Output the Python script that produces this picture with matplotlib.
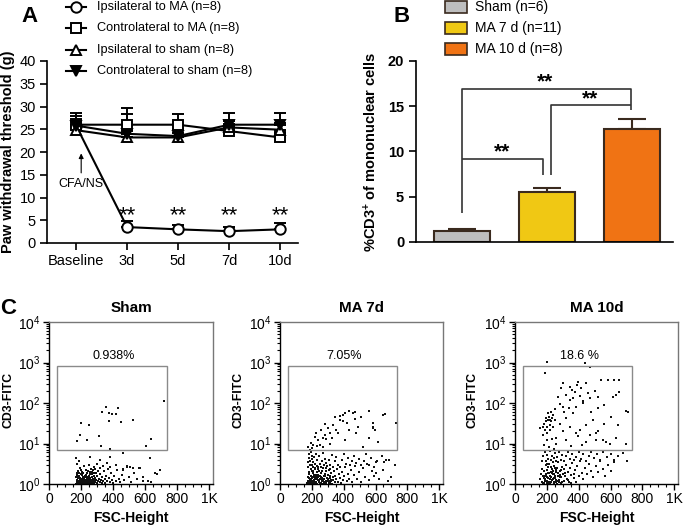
import matplotlib
matplotlib.use('Agg')
import matplotlib.pyplot as plt
from matplotlib.lines import Line2D
from matplotlib.patches import Rectangle
from matplotlib.ticker import MultipleLocator, LogLocator, LogFormatterMathtext, NullFormatter
import numpy as np

plt.rcParams['font.family'] = ['Liberation Sans', 'DejaVu Sans']
plt.rcParams['mathtext.fontset'] = 'custom'
plt.rcParams['mathtext.rm'] = 'Liberation Sans'
plt.rcParams['mathtext.bf'] = 'Liberation Sans:bold'
plt.rcParams['mathtext.it'] = 'Liberation Sans:italic'
plt.rcParams['mathtext.default'] = 'regular'

# ---------------- Panel A data ----------------
timepoints = ['Baseline', '3d', '5d', '7d', '10d']
series_labels = ['Ipsilateral to MA (n=8)', 'Controlateral to MA (n=8)',
                 'Ipsilateral to sham (n=8)', 'Controlateral to sham (n=8)']
ipsi_ma = [25.8, 3.5, 3.0, 2.6, 3.0]
ipsi_ma_err = [1.5, 1.3, 0.9, 0.9, 1.5]
contra_ma = [26.0, 26.0, 26.0, 24.6, 23.2]
contra_ma_err = [2.5, 3.7, 2.3, 1.5, 1.0]
ipsi_sham = [24.8, 23.2, 23.2, 25.4, 24.9]
ipsi_sham_err = [1.0, 1.5, 1.0, 1.5, 1.5]
contra_sham = [25.8, 24.0, 23.5, 26.0, 26.0]
contra_sham_err = [2.2, 4.4, 1.5, 2.5, 2.5]

# ---------------- Panel B data ----------------
groups = ['Sham (n=6)', 'MA 7 d (n=11)', 'MA 10 d (n=8)']
cd3_pct = [1.25, 5.5, 12.5]
cd3_err = [0.15, 0.52, 1.07]
bar_colors = ['#BEBEBE', '#F0C814', '#F07314']

# ---------------- Panel C data ----------------
facs_titles = ['Sham', 'MA 7d', 'MA 10d']
gate_pct = ['0.938%', '7.05%', '18.6 %']
x_tick_vals = [0, 200, 400, 600, 800, 1000]
x_tick_labels = ['0', '200', '400', '600', '800', '1K']

sham_events = [
    (716, 114), (358, 78), (433, 76), (333, 59), (373, 56), (393, 53), (420, 53), (375, 36),
    (449, 34), (524, 38), (197, 33), (248, 28), (313, 15.6), (193, 16), (240, 12), (172, 11.7),
    (325, 8.9), (607, 8.7), (634, 12.7), (380, 7.3),
    (167, 4.3), (255, 4.6), (380, 4.6), (463, 5.9), (630, 4.3), (318, 3.9), (485, 2.8), (505, 2.7),
    (463, 2.2), (525, 2.5), (567, 2.5), (590, 1.5), (550, 1.35), (673, 1.8), (693, 2.2), (662, 1.9),
    (175, 3.2), (185, 3.6), (620, 1.2), (640, 1.1),
    (168, 1.02), (172, 1.12), (175, 1.25), (178, 1.05), (181, 1.38), (184, 1.18), (186, 1.02), (189, 1.55),
    (191, 1.28), (194, 1.09), (196, 1.42), (199, 1.15), (201, 1.03), (204, 1.33), (206, 1.22), (209, 1.68),
    (211, 1.07), (214, 1.48), (216, 1.19), (219, 1.01), (221, 1.36), (224, 1.11), (226, 1.58), (229, 1.24),
    (231, 1.04), (234, 1.45), (236, 1.16), (239, 1.82), (241, 1.30), (244, 1.06), (246, 1.52), (249, 1.21),
    (251, 1.02), (254, 1.39), (256, 1.13), (259, 1.72), (261, 1.27), (264, 1.05), (266, 1.47), (269, 1.17),
    (271, 1.95), (274, 1.33), (276, 1.08), (279, 1.61), (281, 1.22), (284, 1.03), (286, 1.41), (289, 1.14),
    (292, 1.88), (295, 1.29), (298, 1.06), (302, 1.55), (305, 1.19), (309, 2.15), (312, 1.36), (316, 1.09),
    (320, 1.72), (324, 1.25), (328, 1.04), (333, 1.48), (338, 1.16), (342, 2.05), (347, 1.32), (352, 1.08),
    (357, 1.62), (362, 1.21), (368, 2.35), (374, 1.40), (380, 1.12), (386, 1.85), (393, 1.27), (400, 1.05),
    (408, 1.55), (416, 1.18), (425, 2.20), (435, 1.35), (445, 1.10), (455, 1.70), (470, 1.25), (485, 2.60),
    (500, 1.45), (515, 1.15), (530, 1.90), (548, 1.30), (565, 2.45), (585, 1.20), (180, 2.05), (192, 2.45),
    (205, 1.95), (218, 2.75), (232, 2.20), (247, 2.90), (262, 2.35), (278, 2.60), (300, 3.10), (320, 2.50),
    (340, 2.85), (360, 3.30), (380, 2.70), (420, 3.00), (460, 2.40), (176, 1.85), (183, 1.62), (198, 1.75),
    (213, 1.90), (228, 1.70), (243, 2.10), (258, 1.98), (273, 2.25), (288, 2.40), (170, 1.45), (173, 1.65),
    (187, 1.90), (200, 2.25), (222, 1.52), (238, 1.38), (252, 1.60), (268, 1.75), (283, 1.90),
    (179, 1.10), (193, 1.22), (207, 1.05), (225, 1.28), (242, 1.12), (257, 1.35), (272, 1.02), (290, 1.25),
]

ma7_events = [
    (396, 52), (406, 58), (433, 63), (458, 56), (562, 65), (662, 54), (375, 38), (420, 33), (469, 40),
    (510, 45), (490, 26), (583, 24), (587, 32), (333, 29), (350, 21.5), (312, 18.5), (281, 31), (267, 14),
    (292, 12.6), (240, 12.2), (219, 14.7), (192, 10.5), (208, 9.2), (250, 9.2), (177, 8.3), (271, 8.3),
    (312, 10), (406, 12), (521, 8.3), (562, 13.5), (614, 11), (365, 17.8), (396, 35), (435, 21.5),
    (479, 17.8), (344, 46), (281, 16), (229, 17.8), (260, 21.5), (188, 6.9), (646, 50), (583, 26),
    (594, 22), (729, 32), (470, 60), (380, 48), (300, 24), (325, 14), (200, 7.8), (230, 8.8),
    (172, 1.03), (175, 1.22), (178, 1.48), (181, 1.10), (184, 1.75), (187, 1.30), (190, 1.02), (193, 1.58),
    (196, 1.18), (199, 2.05), (202, 1.38), (205, 1.07), (208, 1.85), (211, 1.25), (214, 1.52), (217, 1.04),
    (220, 2.30), (223, 1.35), (226, 1.15), (229, 1.68), (232, 1.02), (235, 1.95), (238, 1.28), (241, 1.45),
    (244, 1.09), (247, 2.15), (250, 1.33), (253, 1.62), (256, 1.05), (259, 1.88), (262, 1.22), (265, 1.40),
    (268, 1.01), (271, 2.45), (274, 1.30), (277, 1.55), (280, 1.12), (283, 1.78), (286, 1.20), (289, 1.03),
    (292, 2.05), (295, 1.37), (298, 1.16), (302, 1.65), (306, 1.06), (310, 2.25), (314, 1.42), (318, 1.19),
    (322, 1.85), (326, 1.02), (330, 1.50), (334, 1.27), (338, 2.10), (343, 1.10), (348, 1.60), (353, 1.33),
    (358, 2.40), (364, 1.15), (370, 1.75), (376, 1.40), (382, 1.05), (388, 2.00), (395, 1.25), (402, 1.55),
    (410, 2.60), (418, 1.20), (426, 1.80), (435, 1.35), (444, 2.20), (453, 1.10), (462, 1.65), (472, 2.80),
    (483, 1.30), (495, 1.95), (507, 1.15), (520, 2.45), (533, 1.50), (547, 3.10), (560, 1.25), (575, 2.10),
    (590, 1.60), (605, 3.40), (622, 1.35),
    (174, 2.6), (177, 3.4), (180, 4.5), (183, 5.6), (186, 2.9), (189, 3.8), (192, 6.2), (195, 2.4),
    (198, 4.1), (201, 3.0), (204, 5.0), (207, 2.7), (210, 3.5), (214, 4.6), (218, 2.5), (222, 3.2),
    (226, 5.4), (230, 2.8), (235, 3.9), (240, 2.6), (245, 4.8), (250, 3.1), (256, 2.7), (262, 3.6),
    (268, 5.8), (275, 2.9), (282, 4.2), (290, 3.3), (298, 2.8), (306, 4.0), (315, 3.0), (324, 5.2),
    (333, 2.6), (343, 3.7), (353, 4.6), (364, 3.0), (375, 2.7), (387, 3.9), (400, 5.6), (412, 3.2),
    (425, 4.4), (438, 2.9), (452, 3.6), (466, 5.0), (480, 3.3), (495, 4.1), (510, 2.9), (525, 3.7),
    (540, 5.5), (556, 3.0), (572, 4.3), (590, 2.7), (610, 3.6), (640, 4.9), (656, 3.55), (687, 4.0),
    (646, 2.2), (698, 1.5), (667, 3.9), (725, 2.9), (600, 1.9), (680, 1.2),
    (176, 1.12), (185, 1.40), (194, 1.05), (203, 1.20), (212, 1.65), (221, 1.08), (230, 1.30), (239, 1.70),
    (248, 1.14), (257, 1.48), (266, 1.26), (275, 1.07), (284, 1.55), (293, 1.18), (302, 1.35), (311, 1.04),
    (320, 1.28), (182, 1.95), (209, 2.15), (236, 2.35), (263, 2.10), (290, 2.55), (317, 2.30),
    (179, 1.02), (188, 1.20), (197, 1.33), (206, 1.52), (215, 1.12), (224, 1.45), (233, 1.60), (242, 1.22),
    (251, 1.05), (260, 1.38), (269, 1.18), (278, 1.62), (287, 1.09), (296, 1.44), (305, 1.22), (314, 1.58),
]

ma10_events = [
    (302, 306), (344, 253), (375, 190), (396, 336), (417, 231), (448, 306), (458, 173), (469, 131),
    (427, 98), (385, 81), (365, 56), (323, 42), (281, 31), (344, 26), (406, 22), (448, 29), (490, 38),
    (510, 18), (396, 15), (323, 12), (260, 10), (448, 11), (552, 12), (594, 10), (635, 13.4), (344, 119),
    (302, 81), (271, 144), (292, 231), (323, 158), (365, 131), (521, 74), (479, 61),
    (173, 26), (181, 31), (194, 35), (202, 25), (208, 38), (215, 46), (223, 29), (229, 35), (235, 42),
    (240, 51), (187, 22), (198, 18), (219, 22), (240, 26), (177, 16), (210, 58), (229, 61), (250, 38),
    (160, 24), (192, 42),
    (187, 541), (198, 1050), (437, 960), (469, 790), (542, 370), (583, 380), (625, 380), (656, 370),
    (635, 158), (656, 190), (698, 65), (708, 60), (614, 144), (469, 16), (510, 12), (573, 11), (385, 18),
    (219, 38), (250, 70), (280, 95), (310, 60), (340, 75), (360, 210), (390, 280), (410, 150), (430, 110),
    (500, 200), (520, 140), (560, 90), (600, 45), (230, 13), (260, 14), (300, 20), (200, 12), (185, 9),
    (215, 8), (245, 7.5), (350, 8.5), (420, 9), (520, 20), (560, 30), (650, 28), (700, 10),
    (160, 1.35), (164, 1.80), (168, 1.12), (172, 2.40), (176, 1.55), (180, 1.05), (184, 2.10), (188, 1.30),
    (192, 2.90), (196, 1.65), (200, 1.18), (204, 2.25), (208, 1.42), (212, 3.20), (216, 1.85), (220, 1.08),
    (224, 2.60), (228, 1.50), (232, 1.25), (236, 2.05), (240, 1.72), (244, 1.03), (248, 2.80), (252, 1.38),
    (256, 1.95), (260, 1.15), (264, 2.45), (268, 1.60), (272, 3.50), (276, 1.28), (280, 2.15), (285, 1.45),
    (290, 1.06), (295, 2.70), (300, 1.80), (305, 1.22), (310, 2.35), (316, 1.55), (322, 3.00), (328, 1.35),
    (334, 2.00), (340, 1.12), (347, 2.55), (354, 1.70), (361, 3.30), (368, 1.40), (376, 2.20), (384, 1.15),
    (392, 2.75), (400, 1.60), (410, 3.60), (420, 1.90), (430, 1.30), (440, 2.50), (452, 1.75), (465, 3.10),
    (478, 2.10), (492, 1.45), (506, 2.80), (520, 1.95), (535, 3.80), (550, 2.30), (566, 1.60), (582, 2.90),
    (600, 2.10), (620, 3.40),
    (170, 3.8), (178, 4.9), (186, 6.0), (194, 3.6), (202, 5.2), (210, 4.2), (218, 6.4), (226, 3.9),
    (234, 5.0), (242, 4.4), (250, 5.8), (258, 3.7), (266, 4.6), (276, 6.2), (286, 4.0), (296, 5.3),
    (308, 3.6), (320, 4.8), (332, 6.1), (345, 4.1), (358, 5.5), (372, 3.9), (386, 4.7), (400, 6.3),
    (415, 4.2), (430, 5.4), (446, 3.8), (462, 4.9), (480, 6.0), (498, 4.3), (516, 5.6), (535, 4.0),
    (555, 6.2), (575, 4.6), (600, 5.4), (625, 3.9), (650, 4.8), (705, 3.7), (680, 5.8),
    (190, 1.22), (198, 1.48), (206, 1.90), (214, 1.10), (222, 1.62), (230, 2.30), (238, 1.35), (246, 1.75),
    (254, 2.50), (262, 1.20), (270, 1.85), (278, 1.55), (286, 2.20), (206, 1.02), (226, 1.15), (246, 1.42),
    (266, 1.02), (186, 1.60), (210, 2.65), (234, 1.88), (258, 2.20), (282, 1.70), (200, 3.10), (240, 3.40),
    (174, 1.02), (182, 1.40), (194, 1.75), (202, 1.08), (218, 1.30), (226, 1.95), (242, 1.10), (250, 1.60),
    (258, 1.28), (274, 1.12), (290, 1.50), (298, 1.15), (314, 1.90), (330, 1.25), (350, 1.05), (370, 1.75),
]

# ---------------- Figure ----------------
W, H = 685, 528
fig = plt.figure(figsize=(W / 100, H / 100), dpi=100)


def fx(px):
    return px / W


def fy(py):
    return 1 - py / H


def box(l, t, r, b):
    return [fx(l), fy(b), (r - l) / W, (b - t) / H]


# ---------------- Panel A ----------------
axA = fig.add_axes(box(47, 61, 298, 243))
xs = np.arange(len(timepoints))
zeros = np.zeros(len(timepoints))
series = [
    (ipsi_ma, ipsi_ma_err, 'o', 'white', 7.5),
    (contra_ma, contra_ma_err, 's', 'white', 7.0),
    (ipsi_sham, ipsi_sham_err, '^', 'white', 7.5),
    (contra_sham, contra_sham_err, 'v', 'black', 7.5),
]
for vals, errs, mk, face, ms in series:
    axA.errorbar(xs, vals, yerr=[zeros, errs], fmt='-', marker=mk, mfc=face, mec='black',
                 color='black', lw=1.5, ms=ms, mew=1.4, capsize=4, capthick=1.4,
                 elinewidth=1.4, clip_on=False)
axA.set_xlim(-0.57, 4.35)
axA.set_ylim(0, 40)
axA.set_yticks(np.arange(0, 41, 5))
axA.set_xticks(xs)
axA.set_xticklabels(timepoints)
for s in ['top', 'right']:
    axA.spines[s].set_visible(False)
for s in ['left', 'bottom']:
    axA.spines[s].set_linewidth(1.2)
axA.tick_params(direction='out', length=5, width=1.2, labelsize=10.5, pad=3)
axA.tick_params(axis='y', labelsize=10.5)
axA.set_ylabel('Paw withdrawal threshold (g)', fontsize=10.5, fontweight='bold', labelpad=3)
for xi in xs[1:]:
    axA.text(xi, 6.0, '**', ha='center', va='center', fontsize=16)
axA.text(0.1, 13.0, 'CFA/NS', ha='center', va='center', fontsize=9)
axA.annotate('', xy=(0.1, 20.3), xytext=(0.1, 14.8),
             arrowprops=dict(arrowstyle='-|>', lw=0.8, color='black', mutation_scale=7))

# Legend A (manual)
leg_rows = [7, 28, 50, 71]
for (vals, errs, mk, face, ms), lab, ry in zip(series, series_labels, leg_rows):
    fig.add_artist(Line2D([fx(66), fx(86)], [fy(ry), fy(ry)], transform=fig.transFigure,
                          color='black', lw=1.5))
    fig.add_artist(Line2D([fx(76)], [fy(ry)], transform=fig.transFigure, marker=mk, ms=ms,
                          mfc=face, mec='black', mew=1.4, ls='none'))
    fig.text(fx(97), fy(ry), lab, ha='left', va='center', fontsize=9.2)

fig.text(fx(30), fy(17), 'A', ha='center', va='center', fontsize=16, fontweight='bold')

# ---------------- Panel B ----------------
axB = fig.add_axes(box(416, 61, 673, 242))
bx = np.arange(len(groups))
axB.bar(bx, cd3_pct, width=0.66, color=bar_colors, edgecolor='#3a2a1e', lw=1.5, zorder=2)
axB.errorbar(bx, cd3_pct, yerr=[np.zeros(3), cd3_err], fmt='none', ecolor='#3a2a1e',
             elinewidth=1.5, capsize=10, capthick=1.5, zorder=1)
axB.set_xlim(-0.547, 2.48)
axB.set_ylim(0, 20)
axB.set_yticks([0, 5, 10, 15, 20])
axB.set_xticks([])
for s in ['top', 'right']:
    axB.spines[s].set_visible(False)
for s in ['left', 'bottom']:
    axB.spines[s].set_linewidth(1.2)
axB.tick_params(direction='out', length=5, width=1.2, labelsize=10.5)
for t in axB.get_yticklabels():
    t.set_fontweight('bold')
axB.set_ylabel(r'%CD3$^{\mathbf{+}}$ of mononuclear cells', fontsize=10.5, fontweight='bold',
               labelpad=6)

bk = dict(color='#333333', lw=1.2, solid_capstyle='butt')
# Sham vs MA 10 d
axB.plot([0, 0, 1.99, 1.99], [3.2, 16.9, 16.9, 14.6], **bk)
# MA 7 d vs MA 10 d
axB.plot([1.04, 1.04, 1.99], [7.4, 15.1, 15.1], **bk)
# Sham vs MA 7 d
axB.plot([0, 0.95, 0.95], [9.2, 9.2, 7.4], **bk)
axB.text(0.97, 16.6, '**', ha='center', va='bottom', fontsize=15, fontweight='bold')
axB.text(1.5, 14.8, '**', ha='center', va='bottom', fontsize=15, fontweight='bold')
axB.text(0.47, 8.9, '**', ha='center', va='bottom', fontsize=15, fontweight='bold')

leg_rows_b = [7, 28, 49]
for col, lab, ry in zip(bar_colors, groups, leg_rows_b):
    fig.add_artist(Rectangle((fx(445), fy(ry + 5.5)), 22 / W, 11 / H, transform=fig.transFigure,
                             facecolor=col, edgecolor='#3a2a1e', lw=1.2))
    fig.text(fx(475), fy(ry), lab, ha='left', va='center', fontsize=10)

fig.text(fx(402), fy(17), 'B', ha='center', va='center', fontsize=16, fontweight='bold')

# ---------------- Panel C ----------------
c_boxes = [(49, 322, 213, 484), (280, 322, 443, 484), (515, 322, 678, 484)]
ylabel_x = [8.5, 238, 473]
all_events = [sham_events, ma7_events, ma10_events]
for (l, t, r, b), title, pct, ev, ylx in zip(c_boxes, facs_titles, gate_pct, all_events, ylabel_x):
    ax = fig.add_axes(box(l, t, r, b))
    ex = [p[0] for p in ev]
    ey = [p[1] for p in ev]
    ax.scatter(ex, ey, s=0.9, c='#111111', marker='s', linewidths=0, zorder=2)
    ax.set_yscale('log')
    ax.set_xlim(0, 1024)
    ax.set_ylim(1, 1e4)
    ax.add_patch(Rectangle((50, 6.9), 687, 825, fill=False, ec='#8a8a8a', lw=1.0, zorder=3))
    ax.text(405, 1450, pct, ha='center', va='center', fontsize=9)
    ax.set_xticks(x_tick_vals)
    ax.set_xticklabels(x_tick_labels)
    ax.xaxis.set_minor_locator(MultipleLocator(50))
    ax.yaxis.set_major_locator(LogLocator(base=10, numticks=10))
    ax.yaxis.set_major_formatter(LogFormatterMathtext())
    ax.yaxis.set_minor_locator(LogLocator(base=10, subs=np.arange(2, 10), numticks=20))
    ax.yaxis.set_minor_formatter(NullFormatter())
    ax.tick_params(direction='out', length=4, width=1.0, labelsize=10, pad=2)
    ax.tick_params(which='minor', direction='out', length=2.5, width=0.8)
    ax.spines['left'].set_color('black')
    ax.spines['bottom'].set_color('black')
    ax.spines['top'].set_color('#777777')
    ax.spines['right'].set_color('#777777')
    for s in ax.spines.values():
        s.set_linewidth(1.0)
    ax.text(0.5, 1 + 14 / 162, title, transform=ax.transAxes, ha='center', va='center',
            fontsize=11, fontweight='bold')
    fig.text(fx((l + r) / 2), fy(518), 'FSC-Height', ha='center', va='center', fontsize=10,
             fontweight='bold')
    fig.text(fx(ylx), fy(400), 'CD3-FITC', ha='center', va='center', rotation=90, fontsize=8.8,
             fontweight='bold')

fig.text(fx(8), fy(308), 'C', ha='center', va='center', fontsize=16, fontweight='bold')

fig.savefig('out.png', dpi=100)
